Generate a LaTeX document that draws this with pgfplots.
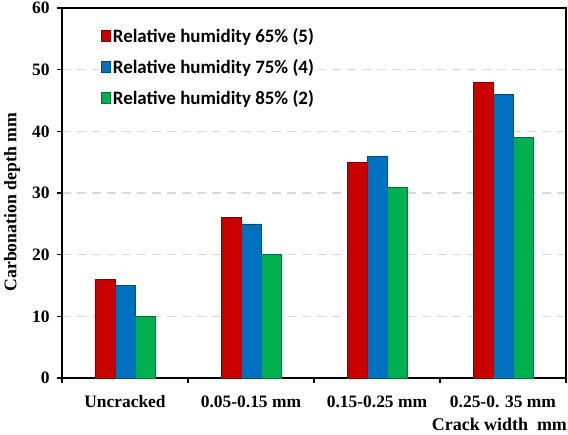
\documentclass[border=0pt]{standalone}
\usepackage{pgfplots}
\pgfplotsset{compat=1.18}
\usepackage{fontspec}
\setmainfont{Liberation Serif}
\newfontfamily\legfont{Carlito}
\definecolor{barred}{RGB}{200,0,0}
\definecolor{barblue}{RGB}{0,112,192}
\definecolor{bargreen}{RGB}{0,176,80}
\definecolor{gridgray}{RGB}{217,217,217}

\begin{document}
\begin{tikzpicture}
\path[use as bounding box] (-62bp,-57bp) rectangle (506bp,378bp);
\begin{axis}[
    at={(0,0)}, anchor=south west,
    scale only axis,
    width=504bp, height=370bp,
    clip=false,
    ymin=0, ymax=60,
    ytick={0,10,20,30,40,50,60},
    xmin=-0.5, xmax=3.5,
    xtick={-0.5,0.5,1.5,2.5,3.5},
    xticklabels={Uncracked,0.05-0.15 mm,0.15-0.25 mm,0.25-0. 35 mm},
    x tick label as interval,
    xtick pos=bottom, ytick pos=left,
    ybar=0pt, bar width=20bp,
    axis line style={line width=1.4pt},
    tick style={line width=1.2pt, black},
    tick align=outside,
    major tick length=5bp,
    ymajorgrids,
    grid style={gridgray, line width=1.6pt, dash pattern=on 9bp off 6bp},
    /pgf/number format/assume math mode=true,
    ticklabel style={font=\fontsize{17.5}{17.5}\selectfont\bfseries},
    yticklabel style={xshift=-4bp},
    xticklabel style={yshift=-9bp},
    legend style={at={(rel axis cs:0.074,0.955)}, anchor=north west,
        draw=none, fill=white, font=\legfont\fontsize{19}{19}\selectfont\bfseries,
        row sep=11.5bp, inner xsep=2bp},
    legend cell align=left,
    legend image code/.code={\draw[#1] (0bp,-5bp) rectangle (9bp,6bp);},
]
\addplot[fill=barred, draw=barred!65!black] coordinates {(0,16) (1,26) (2,35) (3,48)};
\addlegendentry{Relative humidity 65\% (5)}
\addplot[fill=barblue, draw=barblue!65!black] coordinates {(0,15) (1,25) (2,36) (3,46)};
\addlegendentry{Relative humidity 75\% (4)}
\addplot[fill=bargreen, draw=bargreen!65!black] coordinates {(0,10) (1,20) (2,31) (3,39)};
\addlegendentry{Relative humidity 85\% (2)}
\node[rotate=90, anchor=center, font=\fontsize{17.8}{17.8}\selectfont\bfseries] at (rel axis cs:-0.099,0.475) {Carbonation depth mm};
\node[anchor=base west, font=\fontsize{18}{18}\selectfont\bfseries] at (rel axis cs:0.727,-0.143) {Crack width\ \ mm};
\end{axis}
\end{tikzpicture}
\end{document}
